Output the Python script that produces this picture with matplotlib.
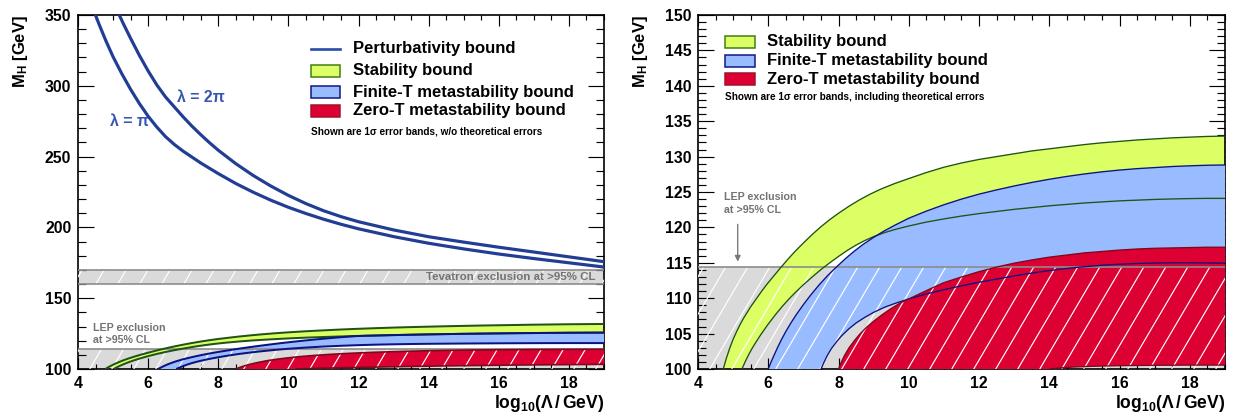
import numpy as np
import matplotlib
matplotlib.use("Agg")
import matplotlib.pyplot as plt
from matplotlib.patches import Rectangle
from matplotlib.collections import LineCollection
from matplotlib.ticker import MultipleLocator

# ---------------------------------------------------------------- data
# x = log10(Lambda / GeV), y = M_H [GeV]

# perturbativity bounds (left panel)
pert_pi_x = [4.45, 4.6, 4.8, 5.0, 5.25, 5.5, 5.75, 6.0, 6.25, 6.5, 6.75, 7.0, 7.5, 8.0,
             8.5, 9.0, 9.5, 10.0, 10.5, 11.0, 11.5, 12.0, 13.0, 14.0, 15.0, 16.0, 17.0,
             18.0, 19.0]
pert_pi_y = [353, 343.5, 331.5, 320.5, 308.5, 297.5, 287.5, 278.5, 270.8, 264.0, 258.5,
             253.8, 245.5, 238.0, 231.0, 224.8, 219.2, 214.2, 209.8, 205.8, 202.2, 199.0,
             193.5, 188.8, 184.8, 181.2, 178.0, 175.0, 172.0]
pert_2pi_x = [5.12, 5.3, 5.5, 5.75, 6.0, 6.25, 6.5, 6.75, 7.0, 7.25, 7.5, 7.75, 8.0, 8.5,
              9.0, 9.5, 10.0, 10.5, 11.0, 11.5, 12.0, 13.0, 14.0, 15.0, 16.0, 17.0, 18.0,
              19.0]
pert_2pi_y = [353, 343.5, 333.5, 321.5, 310.5, 300.5, 292.0, 285.0, 278.0, 271.5, 265.5,
              259.8, 254.5, 245.0, 236.6, 229.2, 222.6, 216.8, 211.8, 207.6, 204.0, 198.2,
              193.4, 189.6, 186.0, 182.6, 179.2, 175.8]

# left panel: 1 sigma bands without theoretical errors
L_stab_hi_x = [4.78, 4.86, 4.95, 5.05, 5.16, 5.3, 5.45, 5.6, 5.8, 6.0, 6.2, 6.4, 6.6,
               6.8, 7.0, 7.25, 7.5, 7.75, 8.0, 8.3, 8.6, 8.9, 9.2, 9.6, 10.0, 10.5, 11.0,
               11.5, 12.0, 12.5, 13.0, 13.5, 14.0, 14.5, 15.0, 15.5, 16.0, 16.5, 17.0,
               17.5, 18.0, 18.5, 19.0]
L_stab_hi_y = [100, 101.2, 102.4, 103.6, 104.8, 106.2, 107.5, 108.7, 110.15, 111.5,
               112.8, 114.0, 115.15, 116.2, 117.2, 118.35, 119.4, 120.35, 121.2, 122.1,
               122.95, 123.7, 124.4, 125.2, 125.9, 126.65, 127.3, 127.9, 128.4, 128.85,
               129.25, 129.6, 129.9, 130.2, 130.45, 130.7, 130.9, 131.1, 131.3, 131.45,
               131.6, 131.7, 131.8]
L_stab_lo_x = [5.02, 5.1, 5.2, 5.32, 5.45, 5.6, 5.8, 6.0, 6.25, 6.5, 6.75, 7.0, 7.3,
               7.6, 7.9, 8.2, 8.6, 9.0, 9.5, 10.0, 10.5, 11.0, 11.5, 12.0, 12.5, 13.0,
               13.5, 14.0, 14.5, 15.0, 15.5, 16.0, 16.5, 17.0, 17.5, 18.0, 18.5, 19.0]
L_stab_lo_y = [100, 101.1, 102.3, 103.6, 104.85, 106.15, 107.7, 109.1, 110.65, 112.05,
               113.3, 114.45, 115.7, 116.8, 117.75, 118.55, 119.45, 120.2, 120.95, 121.6,
               122.15, 122.6, 123.0, 123.35, 123.65, 123.95, 124.2, 124.45, 124.65,
               124.85, 125.0, 125.15, 125.3, 125.4, 125.5, 125.6, 125.65, 125.7]
L_fin_hi_x = [6.29, 6.36, 6.45, 6.55, 6.67, 6.8, 7.0, 7.25, 7.5, 7.75, 8.0, 8.3, 8.6,
              8.9, 9.2, 9.5, 9.8, 10.1, 10.4, 10.7, 11.0, 11.3, 11.6, 11.9, 12.2, 12.5,
              13.0, 13.5, 14.0, 14.5, 15.0, 15.5, 16.0, 16.5, 17.0, 17.5, 18.0, 18.5, 19.0]
L_fin_hi_y = [100, 101.0, 102.1, 103.2, 104.35, 105.45, 106.9, 108.4, 109.75, 110.95,
              112.05, 113.25, 114.4, 115.45, 116.45, 117.4, 118.3, 119.15, 119.95, 120.7,
              121.4, 122.05, 122.65, 123.2, 123.48, 123.65, 123.95, 124.2, 124.45, 124.65,
              124.85, 125.0, 125.15, 125.3, 125.4, 125.5, 125.6, 125.65, 125.7]
L_fin_lo_x = [6.8, 6.88, 6.98, 7.1, 7.25, 7.45, 7.7, 8.0, 8.3, 8.6, 8.9, 9.2, 9.6, 10.0,
              10.5, 11.0, 11.5, 12.0, 12.5, 13.0, 13.5, 14.0, 15.0, 16.0, 17.0, 18.0, 19.0]
L_fin_lo_y = [100, 100.9, 101.9, 103.0, 104.2, 105.5, 106.9, 108.3, 109.55, 110.65,
              111.6, 112.45, 113.45, 114.3, 115.15, 115.85, 116.4, 116.85, 117.2, 117.45,
              117.65, 117.8, 118.0, 118.15, 118.25, 118.3, 118.3]
L_zero_hi_x = [8.5, 8.58, 8.68, 8.8, 8.95, 9.15, 9.4, 9.7, 10.0, 10.4, 10.8, 11.2, 11.6,
               12.0, 12.5, 13.0, 13.5, 14.0, 14.5, 15.0, 15.5, 16.0, 16.5, 17.0, 17.5,
               18.0, 18.5, 19.0]
L_zero_hi_y = [100, 100.8, 101.7, 102.6, 103.6, 104.7, 105.9, 107.0, 107.9, 108.9, 109.7,
               110.35, 110.9, 111.35, 111.85, 112.25, 112.6, 112.9, 113.15, 113.35, 113.5,
               113.62, 113.72, 113.8, 113.85, 113.9, 113.92, 113.95]
L_zero_lo_x = [10.2, 10.6, 11.0, 11.5, 12.0, 12.5, 13.0, 13.5, 14.0, 14.5, 15.0, 15.5,
               16.0, 16.5, 17.0, 17.5, 18.0, 18.5, 19.0]
L_zero_lo_y = [100, 100.3, 100.55, 100.85, 101.1, 101.35, 101.6, 101.8, 102.0, 102.2,
               102.35, 102.5, 102.65, 102.8, 102.9, 103.0, 103.1, 103.2, 103.3]

# right panel: 1 sigma bands including theoretical errors
R_stab_hi_x = [4.72, 4.8, 4.9, 5.0, 5.1, 5.2, 5.3, 5.4, 5.5, 5.6, 5.7, 5.8, 5.95, 6.1,
               6.25, 6.35, 6.55, 6.75, 7.0, 7.25, 7.5, 7.75, 8.0, 8.3, 8.6, 8.9, 9.2, 9.6,
               10.0, 10.5, 11.0, 11.5, 12.0, 12.5, 13.0, 13.5, 14.0, 14.5, 15.0, 15.5,
               16.0, 16.5, 17.0, 17.5, 18.0, 18.5, 19.0]
R_stab_hi_y = [100, 101.4, 102.9, 104.2, 105.3, 106.3, 107.2, 108.0, 108.8, 109.5, 110.2,
               110.9, 111.9, 112.8, 113.7, 114.3, 115.45, 116.55, 117.8, 119.0, 120.1,
               121.1, 122.0, 123.0, 123.9, 124.7, 125.4, 126.2, 126.9, 127.75, 128.5,
               129.1, 129.6, 130.0, 130.4, 130.8, 131.1, 131.4, 131.7, 131.95, 132.15,
               132.35, 132.5, 132.65, 132.75, 132.85, 132.9]
R_stab_lo_x = [5.25, 5.35, 5.45, 5.55, 5.65, 5.8, 6.0, 6.2, 6.4, 6.6, 6.8, 7.0, 7.25,
               7.5, 7.75, 8.0, 8.25, 8.5, 8.75, 9.0, 9.3, 9.6, 10.0, 10.5, 11.0, 11.5,
               12.0, 12.5, 13.0, 13.5, 14.0, 14.5, 15.0, 15.5, 16.0, 16.5, 17.0, 17.5,
               18.0, 18.5, 19.0]
R_stab_lo_y = [100, 101.1, 102.1, 103.0, 103.8, 104.95, 106.35, 107.65, 108.85, 109.95,
               110.95, 111.9, 113.0, 114.05, 115.0, 115.9, 116.75, 117.5, 118.15, 118.7,
               119.25, 119.7, 120.2, 120.75, 121.2, 121.6, 121.95, 122.25, 122.55, 122.8,
               123.05, 123.25, 123.45, 123.6, 123.75, 123.85, 123.95, 124.02, 124.07,
               124.1, 124.1]
R_fin_hi_x = [6.0, 6.08, 6.17, 6.27, 6.38, 6.5, 6.65, 6.8, 7.0, 7.2, 7.45, 7.7, 7.95,
              8.2, 8.45, 8.7, 9.0, 9.3, 9.6, 10.0, 10.5, 11.0, 11.5, 12.0, 12.5, 13.0,
              13.5, 14.0, 14.5, 15.0, 15.5, 16.0, 16.5, 17.0, 17.5, 18.0, 18.5, 19.0]
R_fin_hi_y = [100, 101.0, 102.0, 103.1, 104.2, 105.3, 106.55, 107.7, 109.1, 110.4, 111.9,
              113.25, 114.45, 115.6, 116.65, 117.6, 118.6, 119.5, 120.3, 121.3, 122.3,
              123.2, 124.0, 124.7, 125.3, 125.85, 126.35, 126.8, 127.2, 127.55, 127.85,
              128.1, 128.3, 128.45, 128.6, 128.7, 128.78, 128.82]
R_fin_lo_x = [7.5, 7.58, 7.68, 7.8, 7.95, 8.1, 8.3, 8.5, 8.75, 9.0, 9.3, 9.6, 10.0,
              10.5, 11.0, 11.5, 12.0, 12.5, 13.0, 13.5, 14.0, 14.5, 15.0, 15.5, 16.0,
              16.5, 17.0, 17.5, 18.0, 18.5, 19.0]
R_fin_lo_y = [100, 100.9, 101.9, 102.9, 103.9, 104.75, 105.7, 106.5, 107.3, 108.0, 108.7,
              109.25, 109.9, 110.6, 111.2, 111.75, 112.25, 112.7, 113.15, 113.55, 113.9,
              114.2, 114.45, 114.65, 114.8, 114.9, 114.97, 115.0, 115.0, 114.98, 114.95]
R_zero_hi_x = [8.0, 8.08, 8.18, 8.3, 8.45, 8.6, 8.8, 9.0, 9.25, 9.5, 9.75, 10.0, 10.3,
               10.6, 11.0, 11.5, 12.0, 12.5, 13.0, 13.5, 14.0, 14.5, 15.0, 15.5, 16.0,
               16.5, 17.0, 17.5, 18.0, 18.5, 19.0]
R_zero_hi_y = [100, 101.0, 102.0, 103.0, 104.0, 104.9, 105.9, 106.75, 107.7, 108.55,
               109.3, 109.9, 110.6, 111.3, 112.2, 113.0, 113.75, 114.4, 114.95, 115.4,
               115.8, 116.1, 116.4, 116.6, 116.8, 116.95, 117.05, 117.1, 117.15, 117.2,
               117.2]
R_zero_lo_x = [14.0, 14.3, 14.7, 15.2, 16.0, 17.0, 18.0, 19.0]
R_zero_lo_y = [100, 100.15, 100.28, 100.38, 100.47, 100.52, 100.55, 100.55]

# experimental exclusions
LEP_LIMIT = 114.4
TEV_RANGE = (160.0, 170.0)

legend_labels = ["Perturbativity bound", "Stability bound",
                 "Finite-T metastability bound", "Zero-T metastability bound"]

# ---------------------------------------------------------------- style
plt.rcParams.update({
    "font.family": ["Liberation Sans", "DejaVu Sans"],
    "font.weight": "bold",
    "mathtext.fontset": "custom",
    "mathtext.rm": "Liberation Sans:bold",
    "mathtext.bf": "Liberation Sans:bold",
    "mathtext.it": "Liberation Sans:bold",
    "axes.linewidth": 1.0,
})

C_YEL, E_YEL = "#dcff66", "#1f5416"
C_BLU, E_BLU = "#99bbff", "#0c1280"
C_RED, E_RED = "#dd0033", "#7c0a1c"
C_GRAY, E_GRAY = "#dadada", "#8c8c8c"
C_PERT = "#213d94"
C_TXT = "#737373"

DPI = 120
FW, FH = 1253, 420
fig = plt.figure(figsize=(FW / DPI, FH / DPI), dpi=DPI)
axL = fig.add_axes([78 / FW, 51 / FH, 526 / FW, 354 / FH])
axR = fig.add_axes([698 / FW, 51 / FH, 527 / FW, 354 / FH])


def style_axes(ax, ylo, yhi, ymaj, ymin):
    ax.set_xlim(4, 19)
    ax.set_ylim(ylo, yhi)
    ax.xaxis.set_major_locator(MultipleLocator(2))
    ax.xaxis.set_minor_locator(MultipleLocator(0.5))
    ax.yaxis.set_major_locator(MultipleLocator(ymaj))
    ax.yaxis.set_minor_locator(MultipleLocator(ymin))
    ax.tick_params(which="both", direction="in", top=True, right=True,
                   width=0.7, labelsize=9.5)
    ax.tick_params(axis="x", which="major", length=6.4, pad=4)
    ax.tick_params(axis="x", which="minor", length=3.2)
    ax.tick_params(axis="y", which="major", length=9.6, pad=4)
    ax.tick_params(axis="y", which="minor", length=4.8)


def band(ax, xh, yh, xl, yl, face, z):
    xs = np.concatenate([np.asarray(xh), np.asarray(xl)[::-1]])
    ys = np.concatenate([np.asarray(yh), np.asarray(yl)[::-1]])
    ax.fill(xs, ys, facecolor=face, edgecolor="none", zorder=z)


def edge(ax, x, y, color, lw):
    ax.plot(x, y, color=color, lw=lw, zorder=7, solid_capstyle="butt",
            solid_joinstyle="round")


def hatch_region(ax, y0, y1, slope=1.7, step_px=22.0, lw=0.7):
    """White diagonal hatching restricted to the band y0..y1."""
    pos = ax.get_position()
    W, H = pos.width * FW, pos.height * FH
    du = H / (slope * W)
    starts = np.arange(-du, 1.0, step_px / W)
    segs = [[(u, 0.0), (u + du, 1.0)] for u in starts]
    lc = LineCollection(segs, colors="white", linewidths=lw,
                        transform=ax.transAxes, zorder=5)
    ax.add_collection(lc, autolim=False)
    clip = Rectangle((4, y0), 15, y1 - y0, transform=ax.transData)
    lc.set_clip_path(clip)


def legend(ax, x_box, x_txt, rows, items, note, note_y, box_w, box_h):
    for (kind, face, ec), label, fy in zip(items, legend_labels[-len(items):], rows):
        if kind == "line":
            ax.plot([x_box, x_box + box_w], [fy, fy], color="#2b4ca8", lw=1.6,
                    transform=ax.transAxes, clip_on=False, zorder=9)
        else:
            ax.add_patch(Rectangle((x_box, fy - box_h / 2), box_w, box_h,
                                   facecolor=face, edgecolor=ec, lw=0.9,
                                   transform=ax.transAxes, clip_on=False, zorder=9))
        ax.text(x_txt, fy, label, transform=ax.transAxes, ha="left", va="center",
                fontsize=10, zorder=9)
    ax.text(x_box, note_y, note, transform=ax.transAxes, ha="left", va="center",
            fontsize=6, zorder=9)


# ---------------------------------------------------------------- left panel
style_axes(axL, 100, 350, 50, 10)
axL.axhspan(100, LEP_LIMIT, facecolor=C_GRAY, edgecolor="none", zorder=1)
axL.axhspan(*TEV_RANGE, facecolor=C_GRAY, edgecolor="none", zorder=1)

band(axL, L_stab_hi_x, L_stab_hi_y, L_stab_lo_x, L_stab_lo_y, C_YEL, 2)
band(axL, L_fin_hi_x, L_fin_hi_y, L_fin_lo_x, L_fin_lo_y, C_BLU, 3)
band(axL, L_zero_hi_x, L_zero_hi_y, L_zero_lo_x, L_zero_lo_y, C_RED, 4)
hatch_region(axL, 100, LEP_LIMIT)
hatch_region(axL, *TEV_RANGE)
for yv in (LEP_LIMIT,) + TEV_RANGE:
    axL.axhline(yv, color=E_GRAY, lw=1.0, zorder=6)

for xs, ys in [(L_stab_hi_x, L_stab_hi_y), (L_stab_lo_x, L_stab_lo_y)]:
    edge(axL, xs, ys, E_YEL, 1.2)
for xs, ys in [(L_fin_hi_x, L_fin_hi_y), (L_fin_lo_x, L_fin_lo_y)]:
    edge(axL, xs, ys, E_BLU, 1.2)
for xs, ys in [(L_zero_hi_x, L_zero_hi_y), (L_zero_lo_x, L_zero_lo_y)]:
    edge(axL, xs, ys, E_RED, 1.0)

axL.plot(pert_pi_x, pert_pi_y, color=C_PERT, lw=1.9, zorder=8)
axL.plot(pert_2pi_x, pert_2pi_y, color=C_PERT, lw=1.9, zorder=8)
axL.text(4.91, 274.6, "λ = π", color="#3656b0", fontsize=9.5,
         ha="left", va="center")
axL.text(6.82, 291.4, "λ = 2π", color="#3656b0", fontsize=9.5,
         ha="left", va="center")

axL.text(18.75, 164.8, "Tevatron exclusion at >95% CL", color=C_TXT, fontsize=6.9,
         ha="right", va="center", zorder=9)
axL.text(4.44, 124.5, "LEP exclusion\nat >95% CL", color=C_TXT, fontsize=6.4,
         ha="left", va="center", linespacing=1.25, zorder=9)

legend(axL, 0.443, 0.522, [0.904, 0.842, 0.782, 0.729],
       [("line", None, None), ("box", C_YEL, "#3f7a12"),
        ("box", C_BLU, E_BLU), ("box", C_RED, "#a0102a")],
       "Shown are 1σ error bands, w/o theoretical errors", 0.672, 0.056, 0.033)

# ---------------------------------------------------------------- right panel
style_axes(axR, 100, 150, 5, 1)
axR.axhspan(100, LEP_LIMIT, facecolor=C_GRAY, edgecolor="none", zorder=1)

band(axR, R_stab_hi_x, R_stab_hi_y, R_stab_lo_x, R_stab_lo_y, C_YEL, 2)
band(axR, R_fin_hi_x, R_fin_hi_y, R_fin_lo_x, R_fin_lo_y, C_BLU, 3)
band(axR, R_zero_hi_x, R_zero_hi_y, R_zero_lo_x, R_zero_lo_y, C_RED, 4)
hatch_region(axR, 100, LEP_LIMIT)
axR.axhline(LEP_LIMIT, color=E_GRAY, lw=1.0, zorder=6)

for xs, ys in [(R_stab_hi_x, R_stab_hi_y), (R_stab_lo_x, R_stab_lo_y)]:
    edge(axR, xs, ys, E_YEL, 0.8)
for xs, ys in [(R_fin_hi_x, R_fin_hi_y), (R_fin_lo_x, R_fin_lo_y)]:
    edge(axR, xs, ys, E_BLU, 0.8)
for xs, ys in [(R_zero_hi_x, R_zero_hi_y), (R_zero_lo_x, R_zero_lo_y)]:
    edge(axR, xs, ys, E_RED, 0.8)

axR.text(4.75, 123.4, "LEP exclusion\nat >95% CL", color=C_TXT, fontsize=6.4,
         ha="left", va="center", linespacing=1.35, zorder=9)
axR.annotate("", xy=(5.13, LEP_LIMIT + 0.3), xytext=(5.13, 120.9),
             arrowprops=dict(arrowstyle="-|>", color="#777777", lw=0.8,
                             mutation_scale=7), zorder=9)

legend(axR, 0.0512, 0.130, [0.925, 0.871, 0.819],
       [("box", C_YEL, "#3f7a12"), ("box", C_BLU, E_BLU), ("box", C_RED, "#a0102a")],
       "Shown are 1σ error bands, including theoretical errors", 0.767, 0.057, 0.034)

# ---------------------------------------------------------------- axis titles
for x_left, x_right in [(20, 604), (640, 1225)]:
    fig.text(x_left / FW, 1 - 15 / FH, r"$\mathbf{M_{H}}$ [GeV]", rotation=90,
             ha="center", va="top", fontsize=10)
    fig.text(x_right / FW, 1 - 403 / FH, r"$\mathbf{log_{10}(\Lambda\,/\,GeV)}$",
             ha="right", va="center", fontsize=10.5)

fig.savefig("out.png", dpi=DPI)
